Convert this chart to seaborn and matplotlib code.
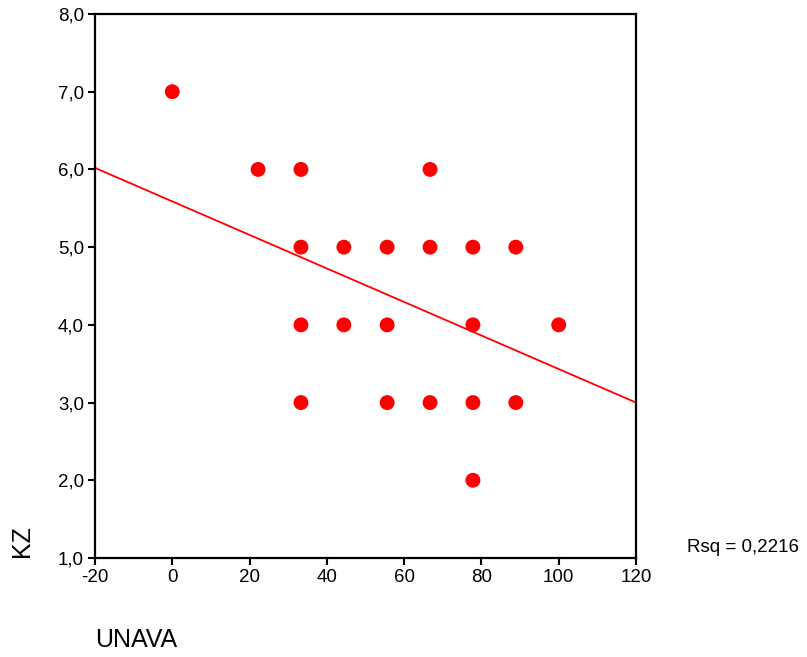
import matplotlib
matplotlib.use("Agg")
import matplotlib.pyplot as plt
import seaborn as sns
import pandas as pd

# Observations: UNAVA score and KZ rating
unava = [0.0, 22.2, 33.3, 66.7,
         33.3, 44.4, 55.6, 66.7, 77.8, 88.9,
         33.3, 44.4, 55.6, 77.8, 100.0,
         33.3, 55.6, 66.7, 77.8, 88.9,
         77.8]
kz = [7, 6, 6, 6,
      5, 5, 5, 5, 5, 5,
      4, 4, 4, 4, 4,
      3, 3, 3, 3, 3,
      2]

# Linear fit line evaluated at the axis ends
fit_x = [-20, 120]
fit_y = [6.02, 3.00]
rsq_label = "Rsq = 0,2216"

x_ticks = [-20, 0, 20, 40, 60, 80, 100, 120]
y_ticks = [1, 2, 3, 4, 5, 6, 7, 8]

sns.set_style("white")
plt.rcParams["font.family"] = ["Liberation Sans", "DejaVu Sans"]
plt.rcParams["text.color"] = "black"

df = pd.DataFrame({"UNAVA": unava, "KZ": kz})
fit = pd.DataFrame({"x": fit_x, "y": fit_y})

fig = plt.figure(figsize=(8.07, 6.57), dpi=100)
ax = fig.add_axes([95 / 807, 99 / 657, 541 / 807, 544 / 657])

sns.lineplot(data=fit, x="x", y="y", ax=ax, color="#ff0000", linewidth=1.3)
sns.scatterplot(data=df, x="UNAVA", y="KZ", ax=ax, color="#ff0000",
                s=115, linewidth=0, edgecolor="none", zorder=3)

ax.set_xlim(-20, 120)
ax.set_ylim(1, 8)
ax.set_xticks(x_ticks)
ax.set_yticks(y_ticks)
ax.set_xticklabels([str(v) for v in x_ticks])
ax.set_yticklabels([f"{v:.1f}".replace(".", ",") for v in y_ticks])
ax.tick_params(direction="out", length=5, width=1.5, colors="black",
               labelcolor="black", labelsize=13.5, pad=3,
               bottom=True, left=True)
for sp in ax.spines.values():
    sp.set_visible(True)
    sp.set_color("black")
    sp.set_linewidth(1.6)
ax.set_xlabel("")
ax.set_ylabel("")

fig.text(95 / 807, 1 - 640 / 657, "UNAVA", fontsize=18, color="black",
         ha="left", va="center")
fig.text(22 / 807, 1 - 541 / 657, "KZ", fontsize=18, rotation=90,
         color="black", ha="center", va="center")
fig.text(687 / 807, 1 - 548 / 657, rsq_label, fontsize=13.5, color="black",
         ha="left", va="center")

fig.savefig("out.png", dpi=100)
